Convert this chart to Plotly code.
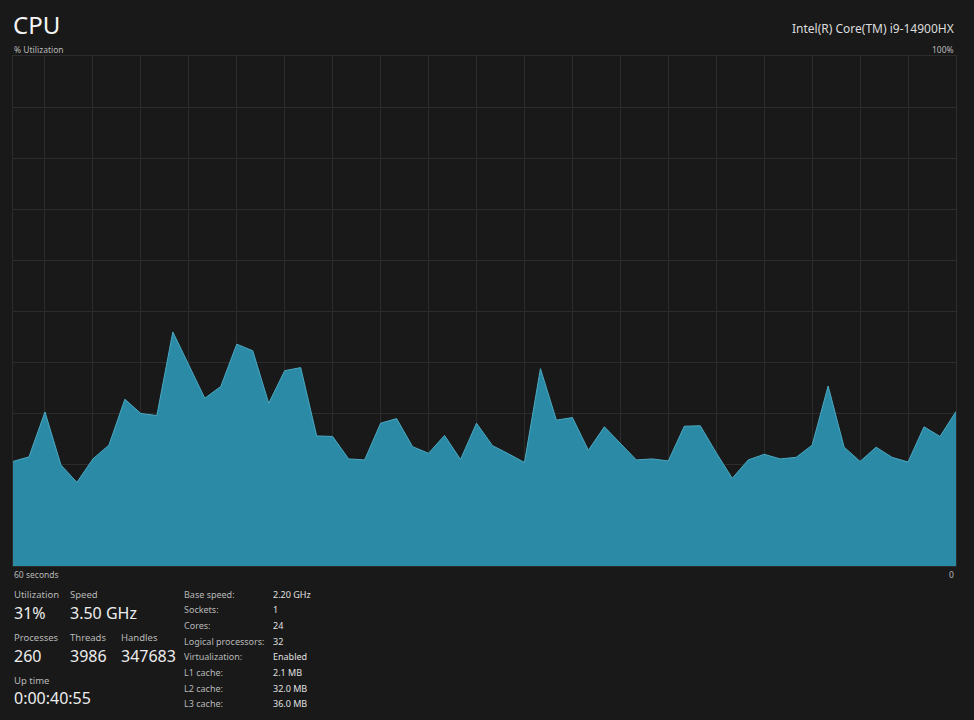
"""Task Manager style CPU utilisation graph"""

import plotly.graph_objects as go

# 60 one-second samples, oldest first (percent)
samples = list(range(60))
utilization = [
    20.5, 21.4, 30.2, 19.8, 16.4, 21.0, 23.7, 32.7, 29.9, 29.5,
    45.9, 39.4, 32.9, 35.2, 43.5, 42.2, 31.9, 38.3, 38.9, 25.5,
    25.4, 21.0, 20.8, 28.0, 28.9, 23.4, 22.1, 25.6, 20.9, 28.0,
    23.6, 22.0, 20.3, 38.7, 28.6, 29.1, 22.7, 27.3, 24.1, 20.8,
    21.0, 20.6, 27.4, 27.5, 22.2, 17.2, 20.8, 21.9, 21.0, 21.3,
    23.7, 35.3, 23.3, 20.5, 23.3, 21.3, 20.4, 27.3, 25.4, 30.3,
]
grid_ticks = [2, 5, 8, 11, 14, 17, 20, 23, 26, 29, 32, 35, 38, 41, 44, 47, 50, 53, 56]

cpu_name = "Intel(R) Core(TM) i9-14900HX"
big_stats = [
    ("Utilization", "31%"), ("Speed", "3.50 GHz"),
    ("Processes", "260"), ("Threads", "3986"), ("Handles", "347683"),
    ("Up time", "0:00:40:55"),
]
spec_labels = ["Base speed:", "Sockets:", "Cores:", "Logical processors:",
               "Virtualization:", "L1 cache:", "L2 cache:", "L3 cache:"]
spec_values = ["2.20 GHz", "1", "24", "32", "Enabled", "2.1 MB", "32.0 MB", "36.0 MB"]

W, H = 974, 720
PL, PR, PT, PB = 13, 956, 56, 566
FONT = "Segoe UI, Noto Sans, sans-serif"
BG = "#191919"
GRID = "#2c2c2c"
LABEL = "#b8b8b8"
VALUE = "#ededed"


def px(x, y):
    """pixel position -> paper coords of the plot area"""
    return (x - PL) / (PR - PL), (PB - y) / (PB - PT)


def text(x, y, s, size, color, anchor="left"):
    xp, yp = px(x, y)
    return dict(
        x=xp, y=yp, xref="paper", yref="paper", text=s, showarrow=False,
        xanchor=anchor, yanchor="middle", align=anchor,
        font=dict(size=size, color=color, family=FONT),
    )


fig = go.Figure()
fig.add_trace(
    go.Scatter(
        x=samples,
        y=utilization,
        mode="lines",
        fill="tozeroy",
        line=dict(color="#4aa9c3", width=1),
        fillcolor="#2b8ba6",
        hoverinfo="skip",
    )
)

notes = [
    text(11, 25, "CPU", 24, "#f5f5f5"),
    text(12, 49, "% Utilization", 8.5, LABEL),
    text(956, 29, cpu_name, 12, "#dcdcdc", "right"),
    text(956, 49, "100%", 8.5, LABEL, "right"),
    text(12, 574, "60 seconds", 8.5, LABEL),
    text(956, 574, "0", 8.5, LABEL, "right"),
]

# big stat blocks: (x, label y, value y)
stat_pos = [(12, 594, 613), (68, 594, 613),
            (12, 637, 656), (68, 637, 656), (119, 637, 656),
            (12, 680, 698)]
for (lbl, val), (x, ly, vy) in zip(big_stats, stat_pos):
    notes.append(text(x, ly, lbl, 9.5, LABEL))
    notes.append(text(x, vy, val, 16, VALUE))

for i, (lbl, val) in enumerate(zip(spec_labels, spec_values)):
    y = 594 + i * 15.7
    notes.append(text(182, y, lbl, 9, LABEL))
    notes.append(text(271, y, val, 9, "#e0e0e0"))

fig.update_layout(
    width=W,
    height=H,
    margin=dict(l=PL, r=W - PR, t=PT, b=H - PB, pad=0),
    paper_bgcolor=BG,
    plot_bgcolor=BG,
    showlegend=False,
    font=dict(family=FONT, color=LABEL),
    annotations=notes,
    xaxis=dict(
        range=[0, 59],
        tickvals=grid_ticks,
        showticklabels=False,
        ticks="",
        showgrid=True,
        gridcolor=GRID,
        gridwidth=1,
        zeroline=False,
        showline=True,
        mirror=True,
        linecolor=GRID,
        linewidth=1,
        fixedrange=True,
    ),
    yaxis=dict(
        range=[0, 100],
        dtick=10,
        showticklabels=False,
        ticks="",
        showgrid=True,
        gridcolor=GRID,
        gridwidth=1,
        zeroline=False,
        showline=True,
        mirror=True,
        linecolor=GRID,
        linewidth=1,
        fixedrange=True,
    ),
)

fig.write_html(
    "out.html",
    config={"displayModeBar": False},
    post_script="document.body.style.margin='0';document.body.style.background='#191919';",
)
